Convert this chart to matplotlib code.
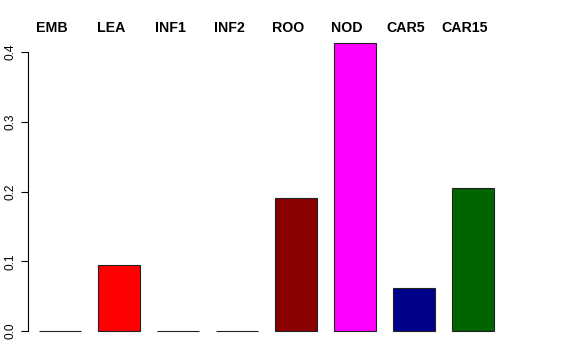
import matplotlib
matplotlib.use("Agg")
import matplotlib.pyplot as plt
import numpy as np

plt.rcParams['font.family'] = ['Liberation Sans', 'DejaVu Sans']

categories = ["EMB", "LEA", "INF1", "INF2", "ROO", "NOD", "CAR5", "CAR15"]
values = [0.0, 0.0945, 0.0, 0.0, 0.1907, 0.413, 0.0617, 0.2045]
colors = ["#FFA500", "#FF0000", "#0000FF", "#00FF00", "#8B0000", "#FF00FF", "#00008B", "#006400"]
yticks = [0.0, 0.1, 0.2, 0.3, 0.4]

W, H = 576, 360
fig = plt.figure(figsize=(W / 100, H / 100), dpi=100)
# axes in pixel coordinates
ax_left, ax_right, ax_top, ax_bottom = 28, 548, 20, 340
ax = fig.add_axes([ax_left / W, 1 - ax_bottom / H, (ax_right - ax_left) / W, (ax_bottom - ax_top) / H])

pxu = 42.13  # px per x unit
x0 = 0.4 - 11 / pxu
x1 = x0 + (ax_right - ax_left) / pxu
pyu = 697.5  # px per y unit
y0 = -(ax_bottom - 331) / pyu
y1 = 0.4 + (52 - ax_top) / pyu

centers = 0.9 + 1.4 * np.arange(len(categories))
ax.bar(centers, values, width=1.0, color=colors, edgecolor="#222222", linewidth=0.8)
ax.set_xlim(x0, x1)
ax.set_ylim(y0, y1)

for s in ["top", "right", "bottom"]:
    ax.spines[s].set_visible(False)
ax.spines["left"].set_bounds(0, 0.4)
ax.spines["left"].set_linewidth(0.8)
ax.set_xticks([])
ax.set_yticks(yticks)
ax.set_yticklabels([f"{v:.1f}" for v in yticks], rotation=90, va="center", fontsize=8.6)
ax.tick_params(axis="y", length=5, width=0.8, pad=3)

for c, lab in zip(centers, categories):
    xpix = ax_left + (c - x0) * pxu - 8
    fig.text(xpix / W, 1 - 28 / H, lab, ha="center", va="center", fontsize=10.2, fontweight="bold")

fig.savefig("out.png", dpi=100)
